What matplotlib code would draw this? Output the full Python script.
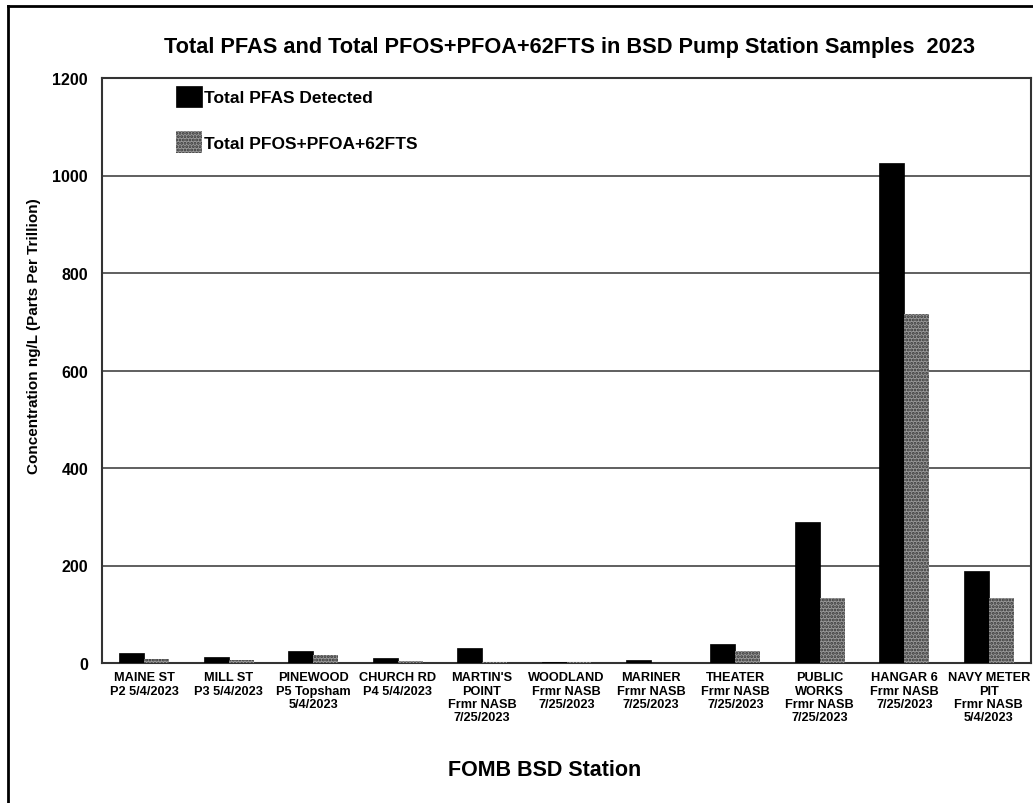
import numpy as np
import matplotlib
matplotlib.use("Agg")
import matplotlib.pyplot as plt
from matplotlib.lines import Line2D

plt.rcParams['font.family'] = ['Liberation Sans', 'DejaVu Sans']
plt.rcParams['font.weight'] = 'bold'
plt.rcParams['hatch.linewidth'] = 1.4

# station labels (x categories)
stations = ["MAINE ST\nP2 5/4/2023", "MILL ST\nP3 5/4/2023", "PINEWOOD\nP5 Topsham\n5/4/2023",
            "CHURCH RD\nP4 5/4/2023", "MARTIN'S\nPOINT\nFrmr NASB\n7/25/2023",
            "WOODLAND\nFrmr NASB\n7/25/2023", "MARINER\nFrmr NASB\n7/25/2023",
            "THEATER\nFrmr NASB\n7/25/2023", "PUBLIC\nWORKS\nFrmr NASB\n7/25/2023",
            "HANGAR 6\nFrmr NASB\n7/25/2023", "NAVY METER\nPIT\nFrmr NASB\n5/4/2023"]
# values (ng/L)
total_pfas = [20, 12, 25, 10, 30, 3, 7, 38, 289, 1025, 189]
pfos_pfoa_62fts = [9, 7, 16, 4, 3, 2, 1, 25, 133, 716, 133]
yticks = [0, 200, 400, 600, 800, 1000, 1200]

W, H = 1033, 804
fig = plt.figure(figsize=(W/100, H/100), dpi=100)
ax = fig.add_axes([102/W, 1-664/H, (1031-102)/W, (664-79)/H])

x = np.arange(len(stations))
w = 0.296
ax.bar(x - w/2, total_pfas, w, color='black', edgecolor='black', lw=0.5,
       label='Total PFAS Detected', zorder=3)
ax.bar(x + w/2, pfos_pfoa_62fts, w, color='#999999', edgecolor='#333333', lw=0,
       hatch='.....', label='Total PFOS+PFOA+62FTS', zorder=3)

ax.set_xlim(-0.5, len(stations) - 0.5)
ax.set_ylim(0, 1200)
ax.set_yticks(yticks)
ax.set_yticklabels([str(v) for v in yticks], fontsize=11.5, fontweight='bold')
ax.set_xticks(x)
ax.set_xticklabels(stations, fontsize=9.2, fontweight='bold', linespacing=1.15)
ax.tick_params(axis='y', length=0, pad=10)
ax.tick_params(axis='x', length=0, pad=6)
ax.yaxis.grid(True, color='#444444', lw=1.2, zorder=0)
ax.set_axisbelow(True)
for s in ax.spines.values():
    s.set_color('#333333')
    s.set_linewidth(1.5)

leg = ax.legend(loc='upper left', bbox_to_anchor=(176/W, 1-87/H), bbox_transform=fig.transFigure,
                frameon=False, fontsize=12.5, handlelength=1.5, handleheight=1.5,
                handletextpad=0.1, labelspacing=1.4, borderpad=0, borderaxespad=0)

fig.text(570/W, 1-47/H, "Total PFAS and Total PFOS+PFOA+62FTS in BSD Pump Station Samples  2023",
         ha='center', va='center', fontsize=15.7, fontweight='bold')
fig.text(545/W, 1-771/H, "FOMB BSD Station", ha='center', va='center', fontsize=15.5, fontweight='bold')
fig.text(34/W, 1-336/H, "Concentration ng/L (Parts Per Trillion)", ha='center', va='center',
         rotation=90, fontsize=11, fontweight='bold')

# outer frame (left and top edges visible in the picture)
fig.add_artist(Line2D([8/W, 8/W], [0, 1-7/H], color='black', lw=2, transform=fig.transFigure))
fig.add_artist(Line2D([8/W, 1], [1-7/H, 1-7/H], color='black', lw=2, transform=fig.transFigure))

fig.savefig("out.png", dpi=100)
